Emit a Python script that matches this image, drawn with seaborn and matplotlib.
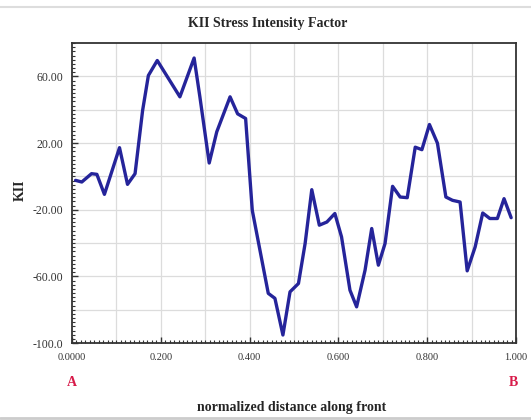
import pandas as pd
import matplotlib.pyplot as plt
import seaborn as sns
import numpy as np
from matplotlib.ticker import MultipleLocator, FixedLocator, FixedFormatter

# values
dist = [0.008, 0.022, 0.044, 0.056, 0.073, 0.107, 0.125, 0.142, 0.159, 0.172,
        0.192, 0.243, 0.275, 0.288, 0.309, 0.326, 0.356, 0.373, 0.391, 0.406,
        0.442, 0.457, 0.475, 0.491, 0.510, 0.525, 0.540, 0.557, 0.574, 0.592,
        0.607, 0.626, 0.641, 0.660, 0.675, 0.690, 0.705, 0.722, 0.739, 0.755,
        0.773, 0.788, 0.805, 0.823, 0.842, 0.857, 0.874, 0.890, 0.908, 0.925,
        0.941, 0.958, 0.973, 0.989]
kii = [-2.4, -3.4, 1.6, 1.2, -10.8, 17.2, -4.8, 1.6, 39.5, 60.5,
       69.5, 47.7, 71.0, 47.7, 8.0, 26.7, 47.7, 37.5, 34.7, -20.4,
       -70.2, -73.2, -95.2, -69.3, -64.3, -40.3, -8.0, -29.3, -27.4, -22.3,
       -36.3, -68.3, -78.3, -56.3, -31.3, -53.3, -40.3, -6.0, -12.4, -12.8,
       17.5, 16.0, 31.1, 19.9, -12.4, -14.4, -15.4, -56.7, -42.3, -22.0,
       -25.3, -25.3, -13.4, -24.8]

xtick_vals = [0.0, 0.2, 0.4, 0.6, 0.8, 1.0]
xtick_text = ['0.0000', '0.200', '0.400', '0.600', '0.800', '1.000']
ytick_vals = [-100, -60, -20, 20, 60]
ytick_text = ['-100.0', '-60.00', '-20.00', '20.00', '60.00']

df = pd.DataFrame({'dist': dist, 'KII': kii})

sns.set_style('white')
plt.rcParams['font.family'] = ['Liberation Serif', 'DejaVu Serif']

fig = plt.figure(figsize=(5.31, 4.2), dpi=100)
ax = fig.add_axes([0.1356, 0.1833, 0.8362, 0.7143])

sns.lineplot(x='dist', y='KII', data=df, sort=False, color='#25249a',
             linewidth=2.4, ax=ax)

ax.set_xlim(0, 1.0)
ax.set_ylim(-100, 80)

# grid lines
for gx in np.arange(0.1, 1.0, 0.1):
    ax.axvline(gx, color='#dcdcdc', linewidth=0.9, zorder=0)
for gy in np.arange(-80, 80, 20):
    ax.axhline(gy, color='#dcdcdc', linewidth=0.9, zorder=0)

ax.xaxis.set_major_locator(FixedLocator(xtick_vals))
ax.xaxis.set_major_formatter(FixedFormatter(xtick_text))
ax.yaxis.set_major_locator(FixedLocator(ytick_vals))
ax.yaxis.set_major_formatter(FixedFormatter(ytick_text))
ax.xaxis.set_minor_locator(MultipleLocator(0.01))
ax.yaxis.set_minor_locator(MultipleLocator(2.5))
ax.tick_params(which='both', bottom=True, left=True, top=False, right=False)
ax.tick_params(which='major', direction='in', length=4, width=1,
               colors='#333333')
ax.tick_params(axis='x', which='major', labelsize=7.5, pad=7)
ax.tick_params(axis='y', which='major', labelsize=8.5, pad=6)
ax.tick_params(which='minor', direction='in', length=2.3, width=0.8,
               colors='#333333')

for sp in ax.spines.values():
    sp.set_color('#333333')
    sp.set_linewidth(1.3)

ax.set_xlabel('')
ax.set_ylabel('')

fig.text(268 / 531, 1 - 24 / 420, 'KII Stress Intensity Factor',
         ha='center', va='center', fontsize=10, fontweight='bold')
fig.text(292 / 531, 1 - 407 / 420, 'normalized distance along front',
         ha='center', va='center', fontsize=10, fontweight='bold')
fig.text(20 / 531, 1 - 190 / 420, 'KII', rotation=90,
         ha='center', va='center', fontsize=10, fontweight='bold')
fig.text(72 / 531, 1 - 383 / 420, 'A', ha='center', va='center',
         fontsize=10, fontweight='bold', color='#d81b4a')
fig.text(513 / 531, 1 - 383 / 420, 'B', ha='center', va='center',
         fontsize=10, fontweight='bold', color='#d81b4a')

# faint frame lines of the screenshot
fig.add_artist(plt.Line2D([0, 1], [1 - 7 / 420] * 2, color='#dddddd',
                          linewidth=1.5))
fig.add_artist(plt.Line2D([0, 1], [1 - 418 / 420] * 2, color='#cccccc',
                          linewidth=2))

fig.savefig('out.png', dpi=100)
